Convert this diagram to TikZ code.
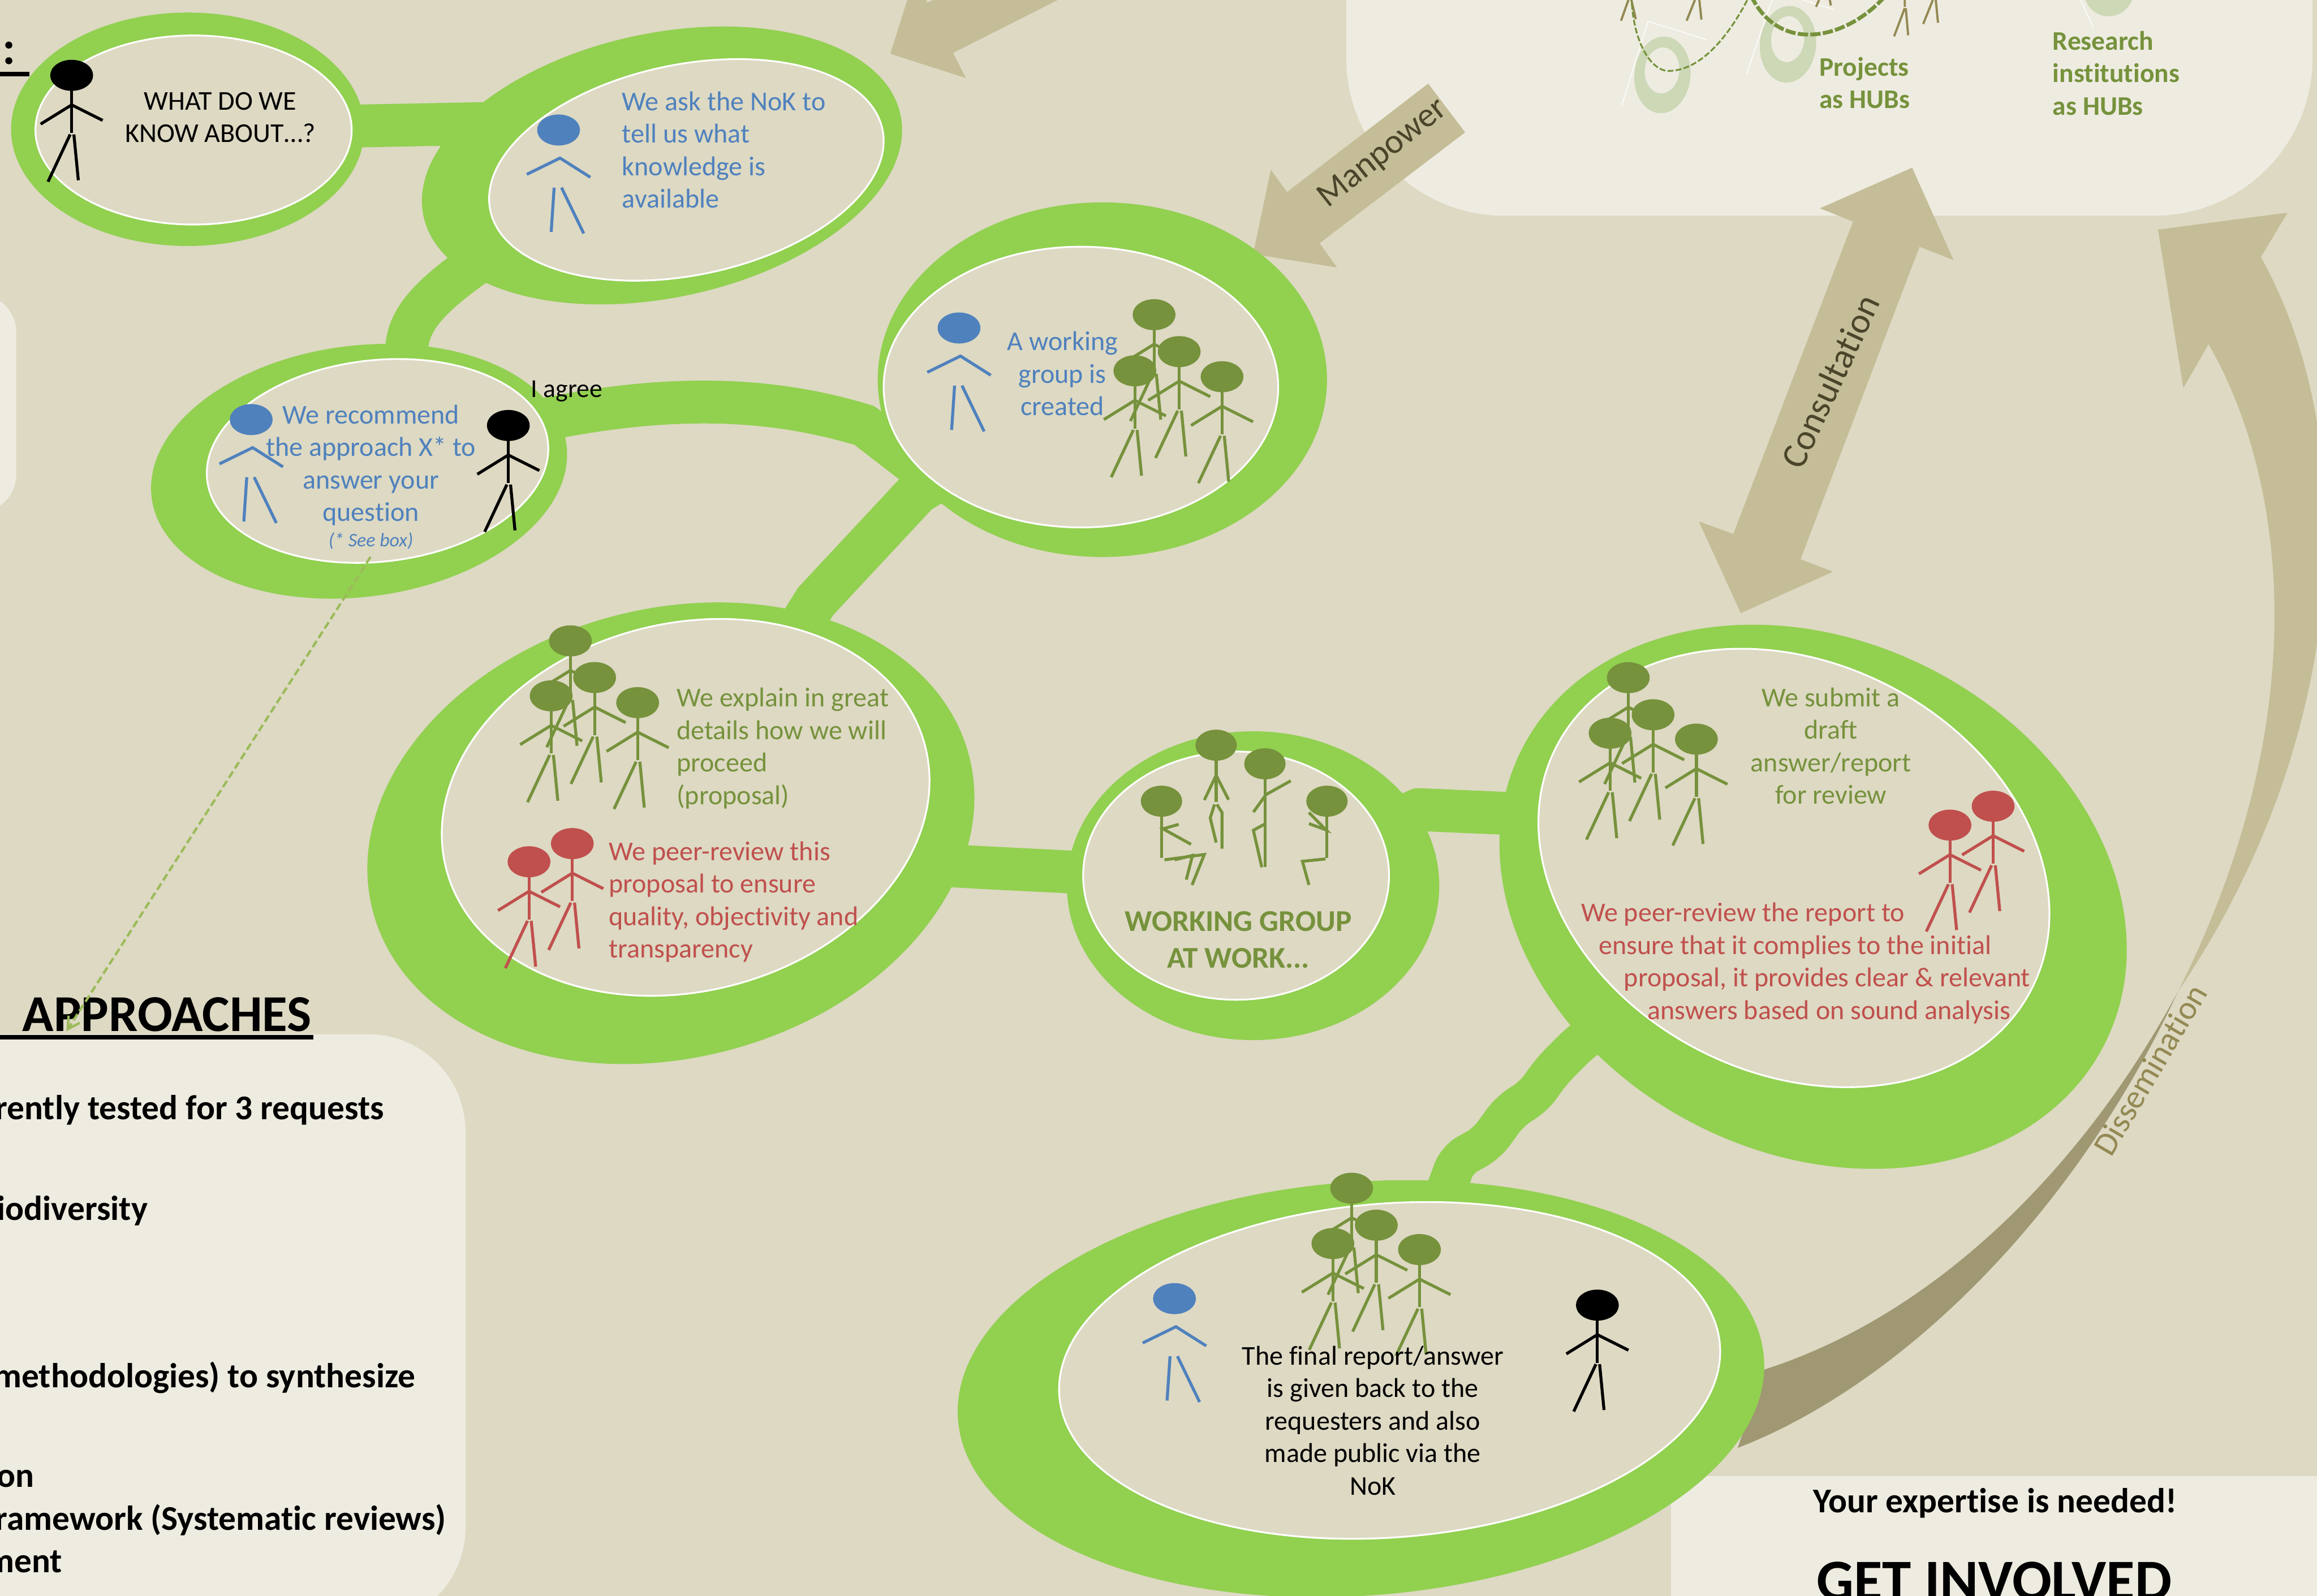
\documentclass[tikz,border=0pt]{standalone}
\usepackage{fontspec}
\setmainfont[Ligatures=NoCommon]{Carlito}
\usetikzlibrary{shapes.geometric,arrows.meta,backgrounds}
\definecolor{bgc}{HTML}{DDD9C3}
\definecolor{panelc}{HTML}{EEECE1}
\definecolor{leaf}{HTML}{92D050}
\definecolor{tanc}{HTML}{C4BD97}
\definecolor{darktan}{HTML}{9F9873}
\definecolor{legc}{HTML}{938953}
\definecolor{inkc}{HTML}{4A452A}
\definecolor{bluec}{HTML}{4F81BD}
\definecolor{redc}{HTML}{C0504D}
\definecolor{olive}{HTML}{76923C}
\definecolor{ringc}{HTML}{CDD8B6}
\definecolor{dashc}{HTML}{9BBB59}
\tikzset{
  outerell/.style={ellipse,fill=leaf,draw=none,inner sep=0pt,outer sep=0pt},
  innerell/.style={ellipse,fill=bgc,draw=white,line width=1.2pt,inner sep=0pt,outer sep=0pt},
  band/.style={draw=leaf,line join=round,line cap=butt},
  arrowshape/.style={fill=tanc,draw=none},
  panel/.style={fill=panelc,draw=none},
  body/.style={inner sep=0pt,outer sep=0pt,font=\fontsize{18.4}{22}\selectfont},
  headtxt/.style={inner sep=0pt,outer sep=0pt,font=\bfseries\fontsize{23.5}{28}\selectfont},
  arrowtxt/.style={inner sep=0pt,outer sep=0pt,text=inkc},
}
% standing figure: head centre at (#1,#2), colour #3
\newcommand{\stickman}[3]{%
  \begin{scope}[shift={(#1,#2)},draw=#3,line width=2pt]
    \fill[#3] (0,0) ellipse [x radius=14.5,y radius=10.5];
    \draw (0,9) -- (0,39);
    \draw (-21,33) -- (0,20) -- (21,30.5);
    \draw (-1,40) -- (-16,72);
    \draw (1.5,40) -- (4.5,71);
  \end{scope}}
% figure without a trunk (the blue requester)
\newcommand{\bluefig}[2]{%
  \begin{scope}[shift={(#1,#2)},draw=bluec,line width=2pt]
    \fill[bluec] (0,0) ellipse [x radius=14.5,y radius=10.5];
    \draw (-21.5,30) -- (1,19) -- (21.5,32);
    \draw (-3,39) -- (-5,69);
    \draw (2,39) -- (17,70);
  \end{scope}}
\begin{document}
\begin{tikzpicture}[x=1pt,y=-1pt]
\clip (0,0) rectangle (1568,1080.2);
\useasboundingbox (0,0) rectangle (1568,1080.2);

\begin{pgfonlayer}{background}
  \fill[bgc] (0,0) rectangle (1568,1080.2);
  % panels
  \fill[panel,rounded corners=107pt] (911,-160) rectangle (1565,146);
  \fill[panel,rounded corners=26pt] (-60,199) rectangle (11,347);
  \fill[panel,rounded corners=66pt] (-100,700) rectangle (315,1100);
  \fill[panel] (1131,999) rectangle (1600,1100);
  % contents of the upper right panel
  \fill[ringc,even odd rule,rotate around={-5:(1125,50.7)}] (1125,50.7) ellipse [x radius=19,y radius=26] (1124.5,47.7) ellipse [x radius=11.7,y radius=15.6];
  \fill[ringc,even odd rule,rotate around={-5:(1210,30)}] (1210,30) ellipse [x radius=19,y radius=26] (1209.5,26.5) ellipse [x radius=11.2,y radius=15.6];
  \fill[ringc] (1427,-5) ellipse [x radius=16.5,y radius=16];
  \draw[white,line width=.5pt] (1097.4,71.6) -- (1115.3,14.4) -- (1154.8,26.9);
  \draw[white,line width=.5pt] (1182,50) -- (1199,0);
  \draw[white,line width=.5pt] (1220,0) -- (1241,6.4);
  \draw[white,line width=.5pt] (1408,0) -- (1416.7,19);
  \draw[legc,line width=1.5pt] (1097,14) -- (1102,0) (1104,0) -- (1107,13);
  \draw[legc,line width=1.5pt] (1141.4,14) -- (1147,0) (1150,0) -- (1151.4,13.3);
  \draw[legc,line width=1.5pt] (1229,4.6) -- (1231,0) (1238.3,0) -- (1239,3.7);
  \draw[legc,line width=1.5pt] (1281.8,24.6) -- (1289,5.5) (1289.7,5.5) -- (1291.3,23.9) (1289,0) -- (1289,4.6);
  \draw[legc,line width=1.5pt] (1301.5,16.2) -- (1308,0) (1310,0) -- (1311.5,15.4);
  \draw[olive,line width=1.2pt,dash pattern=on 4pt off 1.5pt] (1104,-3) .. controls (1105,30) and (1118,48) .. (1129,48) .. controls (1155,48) and (1175,15) .. (1184,-3);
  \draw[olive,line width=2.6pt,dash pattern=on 7pt off 1.5pt] (1185,-3) .. controls (1192,12) and (1205,23.4) .. (1224,23.4) .. controls (1245,23.4) and (1265,10) .. (1276,-3);
  % big arrows
  \fill[arrowshape] (602.5,36.4) -- (653.6,52.8) -- (645,35.8) -- (715.8,0) -- (631.3,0) -- (627.5,1.8) -- (626.8,0) -- (614,0) -- cycle;
  \fill[arrowshape] (966.5,56.6) -- (991.5,89.6) -- (893,164.6) -- (904.7,181) -- (848,172) -- (860,115) -- (871,130) -- cycle;
  \fill[arrowshape] (1294,113.5) -- (1322,176) -- (1299,167) -- (1218.5,378.5) -- (1240.4,387) -- (1178,415) -- (1149.7,353) -- (1173,361.4) -- (1254,150) -- (1231.6,141) -- cycle;
  \fill[arrowshape] (1548,144) -- (1460.4,155.4) -- (1477.5,262.6) -- (1494.6,233)
     .. controls (1545,320) and (1570,480) .. (1474,671)
     .. controls (1590,500) and (1600,300) .. (1530,174) -- cycle;
  \fill[darktan] (1474,671) .. controls (1410,790) and (1310,890) .. (1194,927) -- (1176,980)
     .. controls (1280,940) and (1400,830) .. (1474,671) -- cycle;
\end{pgfonlayer}

% bubbles
\node[outerell,minimum width=239pt,minimum height=158pt] (ko) at (127,87.5) {};
\node[outerell,minimum width=330pt,minimum height=179pt,rotate=12] (ao) at (448,112) {};
\node[outerell,minimum width=304pt,minimum height=240pt] (wo) at (746,257) {};
\node[outerell,minimum width=283pt,minimum height=170pt,rotate=7.3] (ro) at (243,319) {};
\node[outerell,minimum width=417pt,minimum height=304pt,rotate=14.6] (eo) at (454,564) {};
\node[outerell,minimum width=252pt,minimum height=209pt] (go) at (848,599.5) {};
\node[outerell,minimum width=442pt,minimum height=347pt,rotate=-26.8] (so) at (1227,607) {};
\node[outerell,minimum width=547pt,minimum height=280pt,rotate=4.4] (fo) at (921,940) {};

% connecting bands, behind the bubbles
\begin{pgfonlayer}{background}
  \draw[band,line width=29pt] (ko.center) -- (335,83.5) -- (ao.center);
  \draw[band,line width=29pt] (ao.center) -- (320,180) .. controls (285,205) and (275,220) .. (275,240) -- (ro.center);
  \draw[band,line width=29pt] (ro.center) .. controls (400,265) and (500,262) .. (585,288) -- (620,315) -- (wo.center);
  \draw[band,line width=30pt] (wo.center) -- (621,333) -- (552,407) -- (eo.center);
  \draw[band,line width=29pt] (eo.center) .. controls (600,592) and (720,585) .. (go.center);
  \draw[band,line width=29pt] (go.center) -- (960,548) -- (1030,551) -- (so.center);
  \draw[band,line width=27pt,rounded corners=8pt] (so.center) -- (1071,704) -- (1050,725) -- (1038,742) -- (1022,752) -- (1006,774) -- (986,785) -- (980,802) -- (fo.center);
\end{pgfonlayer}

\node[innerell,minimum width=214pt,minimum height=128pt] (ki) at (131,88) {};
\node[innerell,minimum width=271pt,minimum height=142.6pt,rotate=11.6] (ai) at (464.5,115) {};
\node[innerell,minimum width=267pt,minimum height=190pt] (wi) at (731.5,262) {};
\node[innerell,minimum width=232pt,minimum height=136.4pt,rotate=6.3] (ri) at (255.5,312) {};
\node[innerell,minimum width=334.6pt,minimum height=249pt,rotate=14.3] (ei) at (464,546.5) {};
\node[innerell,minimum width=207pt,minimum height=168pt] (gi) at (836.5,592.7) {};
\node[innerell,minimum width=361pt,minimum height=278pt,rotate=-26.8] (si) at (1214,587.5) {};
\node[innerell,minimum width=448.4pt,minimum height=226pt,rotate=4.4] (fi) at (940.4,927.6) {};

% figures
\stickman{48.5}{51}{black}
\bluefig{378}{88}
\bluefig{649}{222}
\bluefig{170}{284}
\stickman{344}{288}{black}
\stickman{781}{213}{olive}
\stickman{798}{238}{olive}
\stickman{768}{251}{olive}
\stickman{827}{255}{olive}
\stickman{386}{433.8}{olive}
\stickman{402.4}{458.6}{olive}
\stickman{373}{471}{olive}
\stickman{431.5}{475.6}{olive}
\stickman{387.3}{571}{redc}
\stickman{358}{583.3}{redc}
\stickman{1101.9}{458.7}{olive}
\stickman{1118.7}{483.8}{olive}
\stickman{1089.6}{496.3}{olive}
\stickman{1148}{500.3}{olive}
\stickman{1348.8}{545.7}{redc}
\stickman{1319.6}{558.5}{redc}
\stickman{914.7}{804.3}{olive}
\stickman{931.4}{829.3}{olive}
\stickman{902}{841.7}{olive}
\stickman{960.6}{845.8}{olive}
\bluefig{794.8}{879}
\stickman{1081}{883.4}{black}

% figures at work
\begin{scope}[draw=olive,line width=2pt]
  \fill[olive] (786,542.3) ellipse [x radius=14,y radius=10.5];
  \draw (786,552) -- (786,580.6);
  \draw (797.7,558) -- (787,561) -- (806,571.5);
  \draw (788,582) -- (815,578.4) -- (806.7,599);
  \draw (795,582) -- (807,579) -- (802.8,595.4);
  \fill[olive] (823,504.4) ellipse [x radius=14,y radius=10.5];
  \draw (823,514) -- (823,542.8);
  \draw (815,541.5) -- (823,524.8) -- (831.4,541.3);
  \draw (821.9,544.5) -- (819,553.6) -- (823,570.3);
  \draw (823.5,544.5) -- (827,550) -- (827,574.5);
  \fill[olive] (856,517) ellipse [x radius=14,y radius=10.5];
  \draw (856,527) -- (856,587);
  \draw (873.5,528.5) -- (856.7,537.9) -- (848.2,549.7);
  \draw (855.5,558) -- (848.2,562) -- (853.9,587);
  \fill[olive] (898,542.3) ellipse [x radius=14,y radius=10.5];
  \draw (898,552) -- (898,580.6);
  \draw (885.8,550) -- (897.3,561.7) -- (885.8,557.5);
  \draw (897,581.4) -- (881.4,583) -- (885.8,599);
\end{scope}

% texts in the bubbles
\node[body,align=center] (t1) at (149,79.5) {WHAT DO WE\\KNOW ABOUT…?};
\node[body,align=left,text=bluec,anchor=west] (t2) at (421,101.5) {We ask the NoK to\\tell us what\\knowledge is\\available};
\node[body,align=center,text=bluec] (t3) at (719,253) {A working\\group is\\created};
\node[body,align=center,text=bluec] (t4) at (251,315) {We recommend\\the approach X* to\\answer your\\question};
\node[inner sep=0pt,text=bluec,font=\itshape\fontsize{13}{15}\selectfont] (t4b) at (251,366) {(* See box)};
\node[inner sep=0pt,font=\fontsize{17.5}{20}\selectfont] (agree) at (383.5,265) {I agree};
\node[body,align=left,text=olive,anchor=west] (t5) at (458,506.5) {We explain in great\\details how we will\\proceed\\(proposal)};
\node[body,align=left,text=redc,anchor=west] (t5b) at (412,610.5) {We peer-review this\\proposal to ensure\\quality, objectivity and\\transparency};
\node[inner sep=0pt,align=center,text=olive,font=\bfseries\fontsize{20.4}{25}\selectfont] (t6) at (838,636) {WORKING GROUP\\AT WORK...};
\node[body,align=center,text=olive] (t7) at (1239,505) {We submit a\\draft\\answer/report\\for review};
\node[body,text=redc,anchor=west] (t7a) at (1070,619) {We peer-review the report to};
\node[body,text=redc,anchor=west] (t7b) at (1082,641) {ensure that it complies to the initial};
\node[body,text=redc,anchor=west] (t7c) at (1099,663) {proposal, it provides clear \& relevant};
\node[body,text=redc,anchor=west] (t7d) at (1115,685) {answers based on sound analysis};
\node[body,align=center] (t8) at (929,961.5) {The final report/answer\\is given back to the\\requesters and also\\made public via the\\NoK};

% texts in the panels
\node[inner sep=0pt,align=left,anchor=west,text=olive,font=\bfseries\fontsize{18.2}{22}\selectfont] (hub1) at (1231,56) {Projects\\as HUBs};
\node[inner sep=0pt,align=left,anchor=west,text=olive,font=\bfseries\fontsize{18.2}{22}\selectfont] (hub2) at (1389,49.5) {Research\\institutions\\as HUBs};
\node[inner sep=0pt,font=\bfseries\fontsize{32}{36}\selectfont] (colon) at (6,36) {:};
\draw[black,line width=3pt] (0,50) -- (20,50);
\node[inner sep=0pt,anchor=base west,font=\bfseries\fontsize{35}{38}\selectfont] (appr) at (15,698) {APPROACHES};
\draw[black,line width=3pt] (0,702) -- (212,702);
\node[headtxt,anchor=east] (l1) at (260,751.5) {rently tested for 3 requests};
\node[headtxt,anchor=east] (l2) at (100,819.5) {iodiversity};
\node[headtxt,anchor=east] (l3) at (281,932.5) {methodologies) to synthesize};
\node[headtxt,anchor=east] (l4) at (23,1001) {on};
\node[headtxt,anchor=east] (l5) at (302,1029) {ramework (Systematic reviews)};
\node[headtxt,anchor=east] (l6) at (42,1057) {ment};
\node[headtxt] (need) at (1350,1017.5) {Your expertise is needed!};
\node[inner sep=0pt,anchor=base,font=\bfseries\fontsize{39.6}{42}\selectfont] (getinv) at (1349.5,1083) {GET INVOLVED};

% arrow labels
\node[arrowtxt,rotate=38.5,font=\fontsize{23.5}{26}\selectfont] (man) at (936,104) {Manpower};
\node[arrowtxt,rotate=65,font=\fontsize{24.5}{27}\selectfont] (con) at (1238.5,258) {Consultation};
\node[inner sep=0pt,text=legc,rotate=59.6,font=\fontsize{22.5}{24}\selectfont] (dis) at (1455,724) {Dissemination};

% dashed pointer to the approaches box
\coordinate (dashstart) at (250.7,377);
\coordinate (dashend) at (45,698);
\draw[dashc,line width=1.6pt,dash pattern=on 5pt off 2.5pt,-{Straight Barb[length=8pt,width=9pt,line width=1.6pt]}] (dashstart) -- (dashend);
\end{tikzpicture}
\end{document}
